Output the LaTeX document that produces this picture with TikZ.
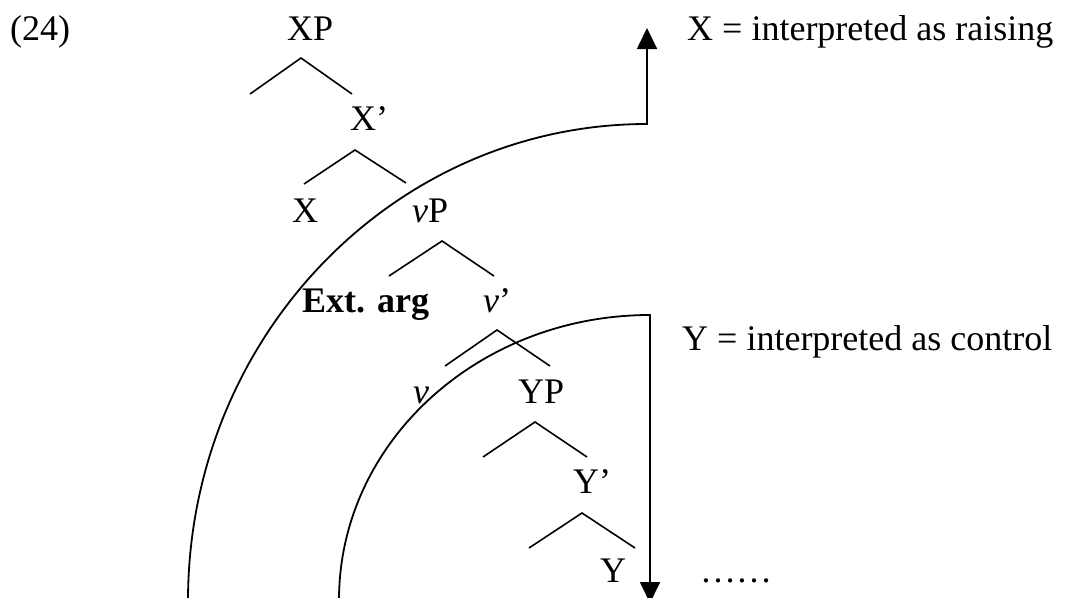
\documentclass[tikz,border=0pt]{standalone}
\usepackage{fontspec}
\setmainfont{Liberation Serif}
\usetikzlibrary{arrows.meta}
\begin{document}
\begin{tikzpicture}[x=1pt,y=1pt,
  lbl/.style={inner sep=0pt, anchor=base west, font=\fontsize{36}{42}\selectfont},
  br/.style={line width=1.6pt},
  arcline/.style={line width=1.8pt},
  tip/.style={-{Triangle[width=20pt,length=21pt]}}]
\useasboundingbox (0,0) rectangle (1070,-597);
% labels
\node[lbl] (ex) at (10,-40) {(24)};
\node[lbl] (XP) at (287,-40) {XP};
\node[lbl] (Xbar) at (350,-130) {X’};
\node[lbl] (X) at (292,-222) {X};
\node[lbl] (vP) at (412,-222) {\textit{v}P};
\node[lbl] (ext) at (302,-312) {\textbf{Ext. arg}};
\node[lbl] (vbar) at (483,-312) {\textit{v}’};
\node[lbl] (v) at (413,-403) {\textit{v}};
\node[lbl] (YP) at (518,-403) {YP};
\node[lbl] (Ybar) at (573,-493) {Y’};
\node[lbl] (Y) at (600,-582) {Y};
\node[lbl] (dots) at (700,-582) {……};
\node[lbl] (raise) at (687,-40) {X = interpreted as raising};
\node[lbl] (ctrl) at (682,-350) {Y = interpreted as control};
% branch points
\coordinate (a1) at (301,-58);  \coordinate (l1) at (250,-94);  \coordinate (r1) at (352,-94);
\coordinate (a2) at (355,-150); \coordinate (l2) at (304,-184); \coordinate (r2) at (406,-183);
\coordinate (a3) at (442,-241); \coordinate (l3) at (389,-276); \coordinate (r3) at (494,-276);
\coordinate (a4) at (497,-330); \coordinate (l4) at (445,-366); \coordinate (r4) at (550,-366);
\coordinate (a5) at (535,-422); \coordinate (l5) at (483,-457); \coordinate (r5) at (587,-457);
\coordinate (a6) at (582,-513); \coordinate (l6) at (529,-548); \coordinate (r6) at (635,-548);
\foreach \i in {1,...,6} { \draw[br] (l\i) -- (a\i) -- (r\i); }
% scope arcs
\coordinate (outerTop) at (647,-124);
\coordinate (upTip) at (647,-28);
\coordinate (innerTop) at (650,-315);
\coordinate (downTip) at (650,-603);
\draw[arcline,tip] (outerTop) ++(-459,-477) arc[start angle=180,end angle=90,x radius=459,y radius=477] -- (upTip);
\draw[arcline,tip] (innerTop) ++(-311,-285) arc[start angle=180,end angle=90,x radius=311,y radius=285] -- (downTip);
\end{tikzpicture}
\end{document}
